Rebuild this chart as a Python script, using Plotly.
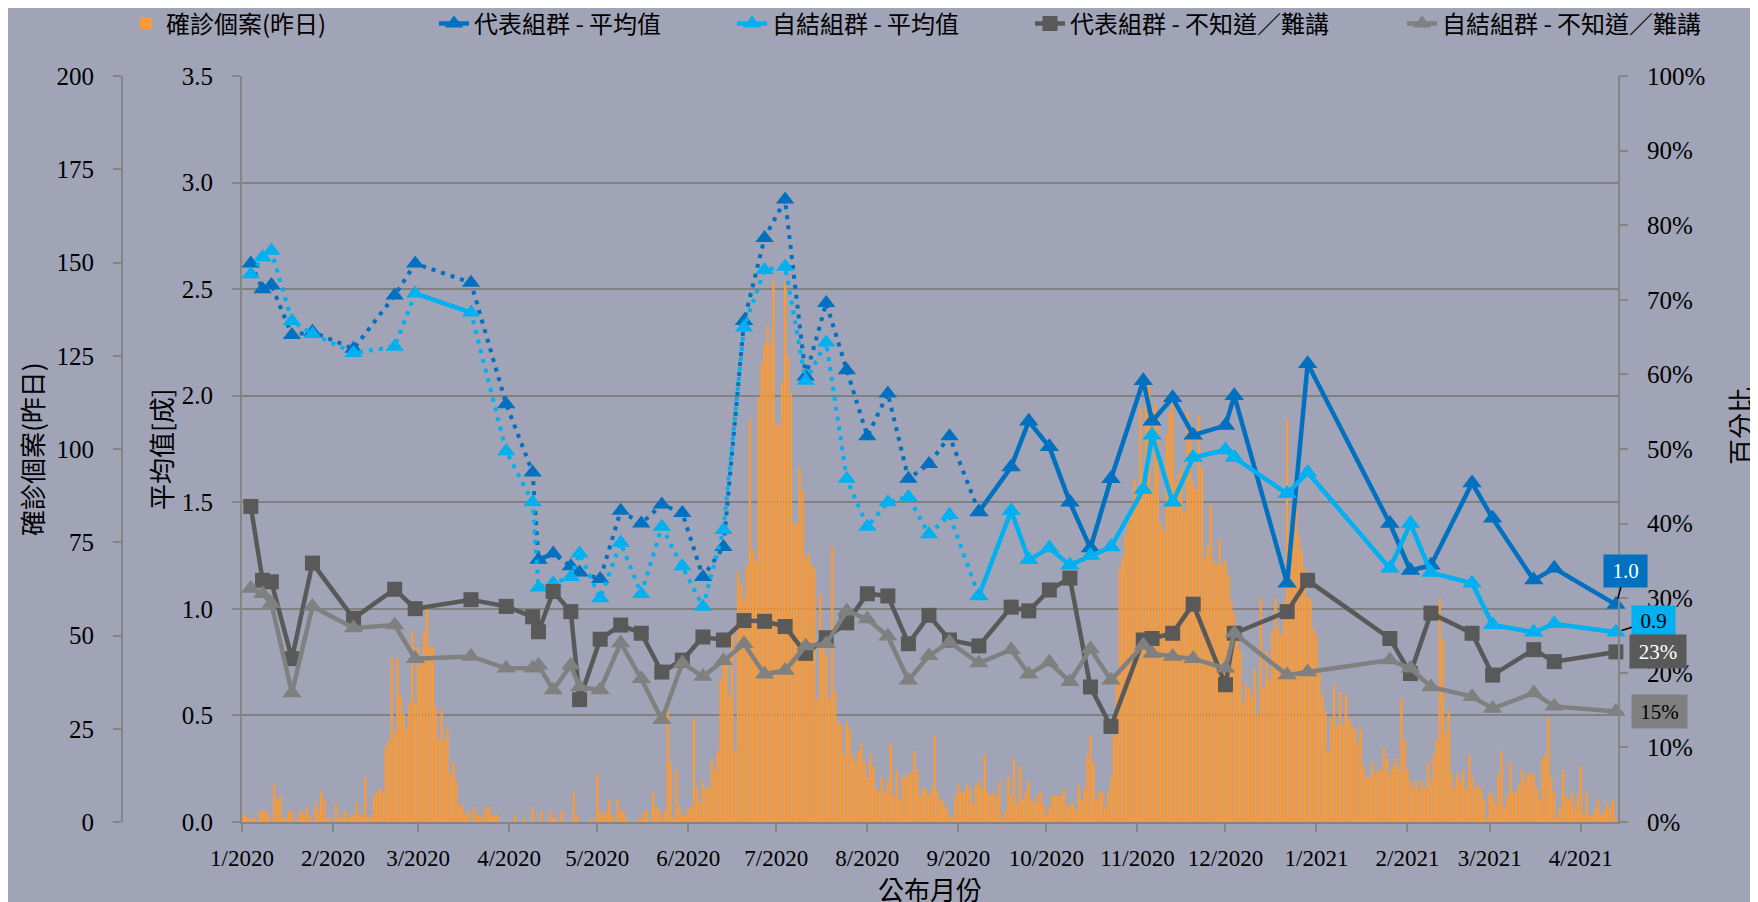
import pandas as pd
import plotly.graph_objects as go

# ---------------- DATA ----------------
# daily confirmed cases (previous day), one list per month
cases_2020_01 = [2, 2, 1, 1, 1, 0, 3, 3, 3, 2, 0, 10, 6, 7, 1, 1, 3, 3, 0, 1, 3, 2, 4, 2, 0, 5, 3, 8, 6, 1, 1]
cases_2020_02 = [0, 5, 1, 1, 3, 1, 2, 2, 5, 2, 2, 12, 1, 2, 7, 8, 9, 8, 20, 22, 44, 24, 44, 34, 29, 25, 32, 51, 32]
cases_2020_03 = [47, 42, 51, 57, 47, 47, 31, 22, 30, 22, 25, 13, 16, 11, 4, 5, 2, 3, 0, 4, 2, 2, 1, 4, 4, 2, 2, 2, 0, 0, 0]
cases_2020_04 = [0, 0, 2, 0, 0, 1, 0, 0, 4, 0, 0, 3, 0, 0, 3, 1, 1, 0, 3, 0, 0, 0, 8, 2, 0, 0, 0, 0, 1, 0]
cases_2020_05 = [13, 3, 2, 3, 6, 2, 0, 6, 3, 3, 1, 0, 0, 0, 1, 1, 3, 3, 0, 8, 4, 4, 1, 3, 30, 16, 1, 14, 4, 2, 2]
cases_2020_06 = [4, 4, 28, 9, 5, 11, 9, 9, 17, 14, 19, 38, 44, 42, 34, 51, 19, 67, 64, 60, 69, 108, 73, 70, 114, 123, 128, 133, 128, 145]
cases_2020_07 = [107, 106, 118, 145, 125, 115, 80, 80, 95, 89, 71, 72, 69, 68, 33, 61, 51, 45, 33, 74, 35, 27, 26, 18, 27, 25, 18, 16, 19, 21, 16]
cases_2020_08 = [12, 18, 15, 9, 8, 12, 8, 11, 21, 7, 14, 6, 12, 12, 13, 13, 19, 14, 7, 9, 9, 7, 9, 23, 8, 6, 5, 4, 2, 1, 7]
cases_2020_09 = [10, 8, 8, 10, 9, 5, 10, 11, 9, 18, 8, 7, 8, 7, 11, 1, 3, 12, 7, 17, 5, 15, 6, 8, 11, 6, 5, 7, 8, 5]
cases_2020_10 = [2, 4, 7, 7, 7, 7, 9, 4, 5, 5, 3, 10, 6, 9, 18, 23, 16, 6, 8, 8, 4, 8, 12, 23, 40, 68, 71, 77, 80, 85, 92]
cases_2020_11 = [85, 111, 92, 112, 118, 89, 112, 108, 80, 78, 104, 110, 112, 91, 93, 95, 83, 110, 104, 91, 89, 109, 95, 71, 74, 85, 70, 69, 76, 69]
cases_2020_12 = [70, 66, 59, 56, 49, 46, 32, 37, 36, 34, 41, 29, 60, 36, 46, 38, 51, 60, 52, 50, 59, 108, 70, 80, 85, 77, 73, 68, 60, 60, 52]
cases_2021_01 = [50, 41, 34, 30, 19, 28, 37, 26, 35, 26, 34, 28, 26, 25, 21, 25, 15, 12, 12, 16, 13, 14, 14, 20, 17, 13, 15, 17, 14, 33, 22]
cases_2021_02 = [14, 11, 9, 11, 9, 11, 9, 16, 11, 18, 22, 60, 49, 24, 30, 13, 9, 13, 11, 14, 9, 18, 12, 9, 10, 9, 6, 1]
cases_2021_03 = [8, 7, 5, 13, 19, 4, 7, 16, 8, 8, 10, 14, 11, 13, 13, 13, 9, 6, 17, 18, 28, 12, 8, 1, 4, 14, 7, 6, 8, 4, 7]
cases_2021_04 = [15, 2, 8, 2, 2, 4, 6, 2, 3, 5, 4, 6, 1]

survey_dates = [
    "2020-01-04", "2020-01-08", "2020-01-11", "2020-01-18", "2020-01-25",
    "2020-02-08", "2020-02-22", "2020-02-29", "2020-03-19", "2020-03-31",
    "2020-04-09", "2020-04-11", "2020-04-16", "2020-04-22", "2020-04-25",
    "2020-05-02", "2020-05-09", "2020-05-16", "2020-05-23", "2020-05-30",
    "2020-06-06", "2020-06-13", "2020-06-20", "2020-06-27", "2020-07-04",
    "2020-07-11", "2020-07-18", "2020-07-25", "2020-08-01", "2020-08-08",
    "2020-08-15", "2020-08-22", "2020-08-29", "2020-09-08", "2020-09-19",
    "2020-09-25", "2020-10-02", "2020-10-09", "2020-10-16", "2020-10-23",
    "2020-11-03", "2020-11-06", "2020-11-13", "2020-11-20", "2020-12-01",
    "2020-12-04", "2020-12-22", "2020-12-29", "2021-01-26", "2021-02-02",
    "2021-02-09", "2021-02-23", "2021-03-02", "2021-03-16", "2021-03-23",
    "2021-04-13",
]

# 代表組群 - 平均值 (成)
rep_mean = [2.62, 2.50, 2.52, 2.285, 2.30, 2.22, 2.47, 2.62, 2.53, 1.96,
            1.64, 1.23, 1.26, 1.20, 1.17, 1.14, 1.46, 1.40, 1.49, 1.45,
            1.15, 1.29, 2.35, 2.74, 2.92, 2.09, 2.435, 2.12, 1.81, 2.01,
            1.61, 1.68, 1.81, 1.455, 1.665, 1.88, 1.76, 1.50, 1.285, 1.61,
            2.07, 1.88, 1.99, 1.815, 1.86, 2.00, 1.12, 2.15, 1.40, 1.18,
            1.205, 1.59, 1.425, 1.135, 1.19, 1.02]
# 自結組群 - 平均值 (成)
self_mean = [2.57, 2.65, 2.68, 2.35, 2.29, 2.20, 2.23, 2.48, 2.39, 1.74,
             1.50, 1.10, 1.12, 1.15, 1.26, 1.05, 1.31, 1.07, 1.385, 1.20,
             1.01, 1.37, 2.32, 2.59, 2.605, 2.07, 2.25, 1.61, 1.385, 1.50,
             1.525, 1.35, 1.44, 1.06, 1.46, 1.23, 1.285, 1.205, 1.25, 1.29,
             1.56, 1.815, 1.50, 1.71, 1.745, 1.71, 1.54, 1.64, 1.19, 1.40,
             1.17, 1.12, 0.925, 0.89, 0.93, 0.89]
# 代表組群 - 不知道／難講 (%)
rep_unsure = [42.3, 32.4, 32.2, 21.9, 34.7, 27.3, 31.2, 28.6, 29.8, 28.9,
              27.5, 25.5, 30.9, 28.2, 16.4, 24.5, 26.4, 25.3, 20.1, 21.7,
              24.8, 24.4, 27.0, 26.9, 26.2, 22.6, 24.7, 26.7, 30.6, 30.3,
              23.9, 27.7, 24.4, 23.6, 28.8, 28.3, 31.1, 32.7, 18.1, 12.8,
              24.4, 24.6, 25.3, 29.2, 18.4, 25.3, 28.2, 32.4, 24.6, 19.9,
              28.0, 25.3, 19.7, 23.1, 21.5, 22.8]
# 自結組群 - 不知道／難講 (%)
self_unsure = [31.3, 30.6, 29.3, 17.3, 28.9, 26.0, 26.4, 21.9, 22.2, 20.6,
               20.6, 21.0, 17.7, 21.0, 18.1, 17.7, 24.0, 19.2, 13.7, 21.3,
               19.5, 21.6, 23.9, 19.8, 20.3, 23.6, 23.9, 28.3, 27.2, 24.9,
               19.0, 22.3, 24.1, 21.3, 23.1, 19.8, 21.4, 18.8, 23.2, 19.0,
               23.7, 22.6, 22.2, 21.9, 20.6, 25.3, 19.7, 20.1, 21.7, 20.6,
               18.1, 16.8, 15.2, 17.3, 15.5, 14.8]

dotted_until = "2020-09-08"

# ---------------- STYLE ----------------
BG = "#A0A4B6"
ORANGE = "#F99A38"
DBLUE = "#0070C0"
LBLUE = "#00B0F0"
DGRAY = "#595959"
LGRAY = "#808080"
AXC = "#858585"
SERIF = "Liberation Serif, Times New Roman, serif"
CJK = "Noto Sans CJK TC, Noto Sans CJK SC, sans-serif"

W, H = 1758, 902
OFF = 8  # page body margin offset


def px_x(px):
    return (px - OFF) / W


def px_y(py):
    return (H - (py - OFF)) / H


X0, X1 = px_x(242), px_x(1618)
Y0, Y1 = px_y(822), px_y(76)

daily_cases = (cases_2020_01 + cases_2020_02 + cases_2020_03 + cases_2020_04 +
               cases_2020_05 + cases_2020_06 + cases_2020_07 + cases_2020_08 +
               cases_2020_09 + cases_2020_10 + cases_2020_11 + cases_2020_12 +
               cases_2021_01 + cases_2021_02 + cases_2021_03 + cases_2021_04)
case_dates = pd.date_range("2020-01-01", periods=len(daily_cases), freq="D")

k = survey_dates.index(dotted_until)

fig = go.Figure()

fig.add_trace(go.Bar(
    x=case_dates, y=daily_cases, name="確診個案(昨日)", marker_color=ORANGE,
    marker_line_width=0, yaxis="y", legend="legend", showlegend=True,
))


def mean_series(vals, color, name, leg, solid_pairs):
    # dotted early part
    fig.add_trace(go.Scatter(
        x=survey_dates[:k + 1], y=vals[:k + 1], yaxis="y2", mode="lines+markers",
        line=dict(color=color, width=4, dash="4px,6px"),
        marker=dict(symbol="triangle-up", size=16, color=color),
        showlegend=False, cliponaxis=False, legend=leg,
    ))
    for a, b in solid_pairs:
        fig.add_trace(go.Scatter(
            x=survey_dates[a:b + 1], y=vals[a:b + 1], yaxis="y2", mode="lines",
            line=dict(color=color, width=4.5), showlegend=False, legend=leg,
        ))
    fig.add_trace(go.Scatter(
        x=survey_dates[k:], y=vals[k:], yaxis="y2", mode="lines+markers",
        line=dict(color=color, width=4.5),
        marker=dict(symbol="triangle-up", size=17, color=color),
        name=name, showlegend=True, cliponaxis=False, legend=leg,
    ))


mean_series(rep_mean, DBLUE, "代表組群 - 平均值", "legend2", [(11, 12)])
mean_series(self_mean, LBLUE, "自結組群 - 平均值", "legend3", [(7, 8)])

fig.add_trace(go.Scatter(
    x=survey_dates, y=rep_unsure, yaxis="y3", mode="lines+markers",
    line=dict(color=DGRAY, width=4.5),
    marker=dict(symbol="square", size=15, color=DGRAY),
    name="代表組群 - 不知道／難講", cliponaxis=False, legend="legend4",
))
fig.add_trace(go.Scatter(
    x=survey_dates, y=self_unsure, yaxis="y3", mode="lines+markers",
    line=dict(color=LGRAY, width=4.5),
    marker=dict(symbol="triangle-up", size=17, color=LGRAY),
    name="自結組群 - 不知道／難講", cliponaxis=False, legend="legend5",
))

tickfont = dict(family=SERIF, size=25, color="black")
common_axis = dict(showline=True, linecolor=AXC, linewidth=2, ticks="outside",
                   ticklen=8, tickwidth=2, tickcolor=AXC, zeroline=False, automargin=False)

legend_text_x = [166, 474, 772, 1070, 1442]
leg_common = dict(orientation="h", xanchor="left", yanchor="middle", y=px_y(24),
                  bgcolor="rgba(0,0,0,0)", font=dict(family=CJK, size=24, color="black"),
                  itemwidth=30, visible=True)

fig.update_layout(
    width=W, height=H, margin=dict(l=0, r=0, t=0, b=0, pad=0, autoexpand=False),
    paper_bgcolor=BG, plot_bgcolor=BG, bargap=0.2, showlegend=True,
    xaxis=dict(domain=[X0, X1], type="date", range=["2020-01-01", "2021-04-13 17:00"],
               tick0="2020-01-01", dtick="M1", tickformat="%-m/%Y", showgrid=False,
               tickfont=dict(family=SERIF, size=23, color="black"), anchor="y",
               ticklabelstandoff=6, **common_axis),
    yaxis=dict(domain=[Y0, Y1], range=[0, 200], dtick=25, anchor="free", position=px_x(122),
               side="left", showgrid=False, tickfont=tickfont, ticklabelstandoff=14,
               **common_axis),
    yaxis2=dict(range=[0, 3.5], dtick=0.5, tickformat=".1f", overlaying="y", anchor="x",
                side="left", showgrid=True, gridcolor="#818181", gridwidth=2,
                tickfont=tickfont, ticklabelstandoff=14, **common_axis),
    yaxis3=dict(range=[0, 100], dtick=10, ticksuffix="%", overlaying="y", anchor="x",
                side="right", showgrid=False, tickfont=tickfont, ticklabelstandoff=14,
                **common_axis),
    legend=dict(x=px_x(legend_text_x[0] - 40), **leg_common),
    legend2=dict(x=px_x(legend_text_x[1] - 40), **leg_common),
    legend3=dict(x=px_x(legend_text_x[2] - 40), **leg_common),
    legend4=dict(x=px_x(legend_text_x[3] - 40), **leg_common),
    legend5=dict(x=px_x(legend_text_x[4] - 40), **leg_common),
)

# axis titles
titles = [
    ("確診個案(昨日)", 31, 449, -90),
    ("平均值[成]", 160, 449, -90),
    ("百分比", 1740, 426, -90),
    ("公布月份", 930, 888, 0),
]
for txt, px, py, ang in titles:
    fig.add_annotation(text=txt, x=px_x(px), y=px_y(py), xref="paper", yref="paper",
                       showarrow=False, textangle=ang, xanchor="center", yanchor="middle",
                       font=dict(family=CJK, size=26, color="black"))

# end-point labels
last = survey_dates[-1]
lab_font = dict(family=SERIF, size=21)
fig.add_annotation(x=last, y=rep_mean[-1], xref="x", yref="y2", text=f"{rep_mean[-1]:.1f}",
                   showarrow=True, arrowhead=0, arrowwidth=1.5, arrowcolor="black",
                   ax=10, ay=-34, standoff=6, bgcolor=DBLUE, width=39, height=28, borderpad=2,
                   font=dict(color="white", **lab_font))
fig.add_annotation(x=last, y=self_mean[-1], xref="x", yref="y2", text=f"{self_mean[-1]:.1f}",
                   showarrow=True, arrowhead=0, arrowwidth=1.5, arrowcolor="black",
                   ax=38, ay=-12, standoff=6, bgcolor=LBLUE, width=39, height=25, borderpad=2,
                   font=dict(color="black", **lab_font))
fig.add_annotation(x=last, y=rep_unsure[-1], xref="x", yref="y3", text=f"{rep_unsure[-1]:.0f}%",
                   showarrow=False, xshift=42, bgcolor=DGRAY, width=52, height=29, borderpad=2,
                   font=dict(color="white", **lab_font))
fig.add_annotation(x=last, y=self_unsure[-1], xref="x", yref="y3", text=f"{self_unsure[-1]:.0f}%",
                   showarrow=False, xshift=44, bgcolor=LGRAY, width=51, height=29, borderpad=2,
                   font=dict(color="black", **lab_font))

fig.write_html("out.html")
